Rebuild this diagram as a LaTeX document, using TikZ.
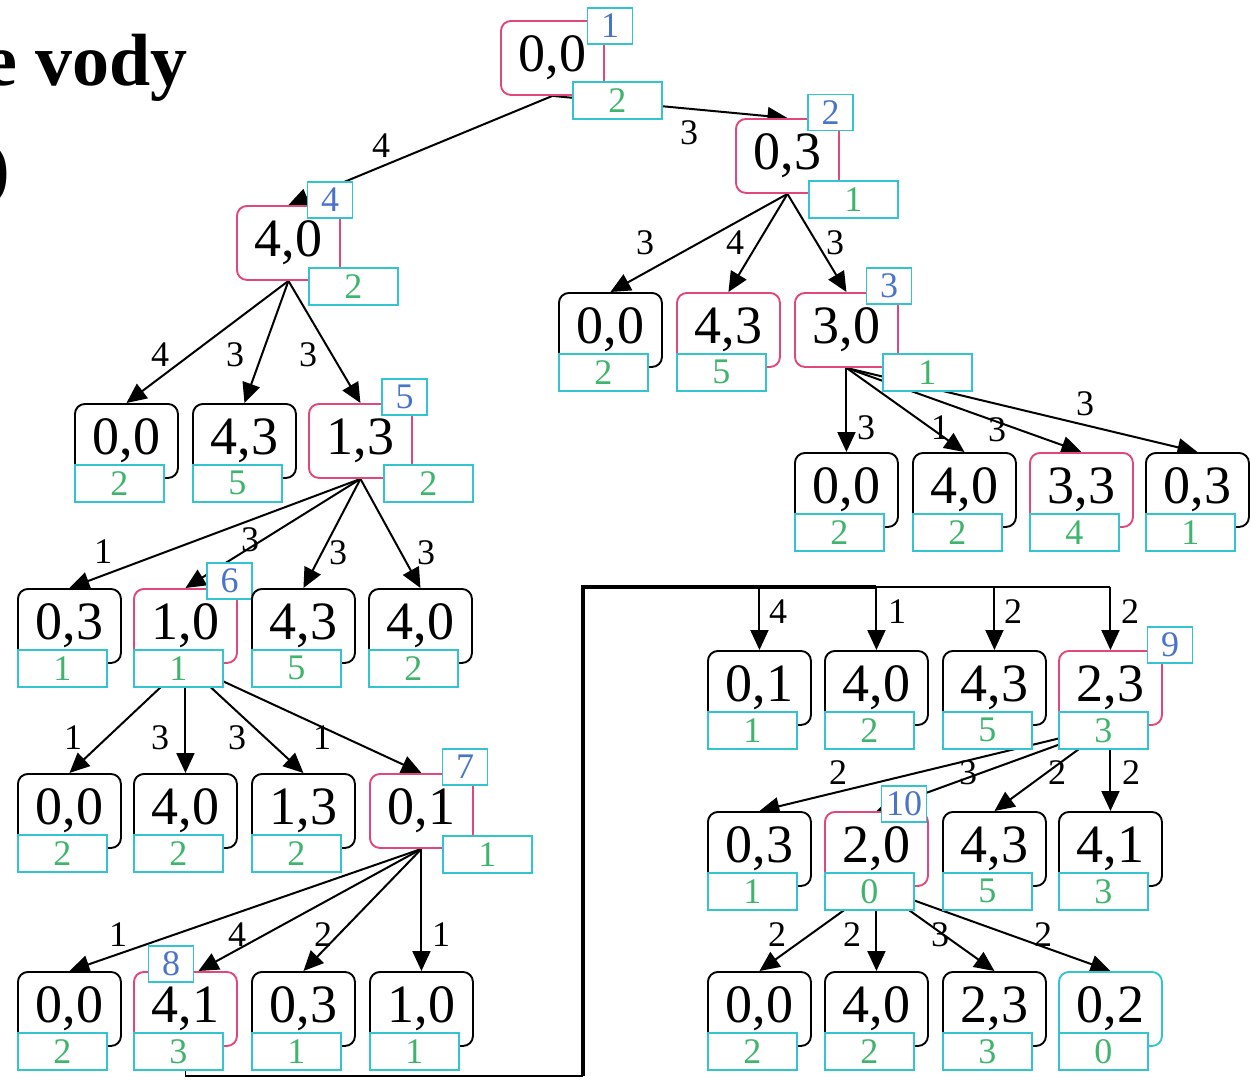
\documentclass[tikz,border=0pt]{standalone}
\usepackage{fontspec}
\setmainfont{Liberation Serif}
\usetikzlibrary{arrows.meta,calc,backgrounds}
\definecolor{pinkb}{HTML}{E2477C}
\definecolor{cyanb}{HTML}{33C4D2}
\definecolor{greent}{HTML}{3FB46C}
\definecolor{bluet}{HTML}{4A74C9}
\tikzset{
 mainbox/.style={draw, line width=1.9pt, rounded corners=10pt, fill=white, minimum width=103pt, minimum height=74pt, inner sep=0pt, anchor=north west, font=\fontsize{54}{54}\selectfont},
 costbox/.style={draw=cyanb, line width=1.7pt, fill=white, minimum width=89pt, minimum height=37pt, inner sep=0pt, anchor=north west, text=greent, font=\fontsize{36}{36}\selectfont},
 idbox/.style={draw=cyanb, line width=1.7pt, fill=white, minimum width=45pt, minimum height=36pt, inner sep=0pt, text=bluet, font=\fontsize{36}{36}\selectfont},
 edge/.style={line width=2pt, -{Triangle[length=20pt,width=18pt]}},
 trunk/.style={line width=2pt},
 lbl/.style={inner sep=0pt, font=\fontsize{36}{36}\selectfont},
 titlefont/.style={inner sep=0pt, anchor=base east, font=\bfseries\fontsize{74}{74}\selectfont},
}
\newcommand\stnode[6]{%
 \node[mainbox, draw=#6] (#1) at (#2,#3) {#4};
 \node[costbox] (#1c) at (#2,#3+61) {#5};}
\begin{document}
\begin{tikzpicture}[x=1pt,y=-1pt]
\useasboundingbox (0,0) rectangle (1250,1079);
\clip (0,0) rectangle (1250,1079);

% title fragments
\node[titlefont] (title) at (188,85) {e vody};
\node[titlefont] (paren) at (10,192) {)};

% root and right branch
\node[mainbox, draw=pinkb] (n1) at (500,20) {0,0};
\node[costbox] (n1c) at (572,81) {2};
\node[idbox] (n1i) at (610,26) {1};

\node[mainbox, draw=pinkb] (n2) at (735,118) {0,3};
\node[costbox] (n2c) at (808,180) {1};
\node[idbox] (n2i) at (830.5,112.5) {2};

\stnode{a1}{558}{292}{0,0}{2}{black}
\stnode{a2}{676}{292}{4,3}{5}{pinkb}
\node[mainbox, draw=pinkb] (n3) at (794,292) {3,0};
\node[costbox] (n3c) at (882,353) {1};
\node[idbox] (n3i) at (889,286) {3};

\stnode{b1}{794}{452}{0,0}{2}{black}
\stnode{b2}{912}{452}{4,0}{2}{black}
\stnode{b3}{1029}{452}{3,3}{4}{pinkb}
\stnode{b4}{1145}{452}{0,3}{1}{black}

% left branch
\node[mainbox, draw=pinkb] (n4) at (236,205) {4,0};
\node[costbox] (n4c) at (308,267) {2};
\node[idbox] (n4i) at (330,200) {4};

\stnode{c1}{74}{403}{0,0}{2}{black}
\stnode{c2}{192}{403}{4,3}{5}{black}
\node[mainbox, draw=pinkb] (n5) at (308,403) {1,3};
\node[costbox] (n5c) at (383,464) {2};
\node[idbox] (n5i) at (404.5,397) {5};

\stnode{d1}{17}{588}{0,3}{1}{black}
\stnode{n6}{133}{588}{1,0}{1}{pinkb}
\node[idbox] (n6i) at (229.5,581) {6};
\stnode{d3}{251}{588}{4,3}{5}{black}
\stnode{d4}{368}{588}{4,0}{2}{black}

\stnode{e1}{17}{773}{0,0}{2}{black}
\stnode{e2}{133}{773}{4,0}{2}{black}
\stnode{e3}{251}{773}{1,3}{2}{black}
\node[mainbox, draw=pinkb] (n7) at (369,773) {0,1};
\node[costbox] (n7c) at (442,835) {1};
\node[idbox] (n7i) at (465,767) {7};

\stnode{f1}{17}{971}{0,0}{2}{black}
\stnode{n8}{133}{971}{4,1}{3}{pinkb}
\node[idbox] (n8i) at (171,964) {8};
\stnode{f3}{251}{971}{0,3}{1}{black}
\stnode{f4}{369}{971}{1,0}{1}{black}

% lower right part
\stnode{g1}{707}{650}{0,1}{1}{black}
\stnode{g2}{824}{650}{4,0}{2}{black}
\stnode{g3}{942}{650}{4,3}{5}{black}
\stnode{n9}{1058}{650}{2,3}{3}{pinkb}
\node[idbox] (n9i) at (1170,645) {9};

\stnode{h1}{707}{811}{0,3}{1}{black}
\stnode{n10}{824}{811}{2,0}{0}{pinkb}
\node[idbox] (n10i) at (904,804) {10};
\stnode{h3}{942}{811}{4,3}{5}{black}
\stnode{h4}{1058}{811}{4,1}{3}{black}

\stnode{i1}{707}{971}{0,0}{2}{black}
\stnode{i2}{824}{971}{4,0}{2}{black}
\stnode{i3}{942}{971}{2,3}{3}{black}
\stnode{i4}{1058}{971}{0,2}{0}{cyanb}

\coordinate (t1) at (583,1076);
\coordinate (t2) at (583,587);

% connectors
\begin{scope}[on background layer]
\fill[white] (0,0) rectangle (1250,1079);
\draw[edge] (n1.south) -- (n2.north);
\draw[edge] (n1.south) -- (n4.north);
\draw[edge] (n2.south) -- (a1.north);
\draw[edge] (n2.south) -- (a2.north);
\draw[edge] (n2.south) -- (n3.north);
\draw[edge] (n3.south) -- (b1.north);
\draw[edge] (n3.south) -- (b2.north);
\draw[edge] (n3.south) -- (b3.north);
\draw[edge] (n3.south) -- (b4.north);
\draw[edge] (n4.south) -- (c1.north);
\draw[edge] (n4.south) -- (c2.north);
\draw[edge] (n4.south) -- (n5.north);
\draw[edge] (n5.south) -- (d1.north);
\draw[edge] (n5.south) -- (n6.north);
\draw[edge] (n5.south) -- (d3.north);
\draw[edge] (n5.south) -- (d4.north);
\draw[edge] (n6.south) -- (e1.north);
\draw[edge] (n6.south) -- (e2.north);
\draw[edge] (n6.south) -- (e3.north);
\draw[edge] (n6.south) -- (n7.north);
\draw[edge] (n7.south) -- (f1.north);
\draw[edge] (n7.south) -- ($(n8.north)+(13,0)$);
\draw[edge] (n7.south) -- (f3.north);
\draw[edge] (n7.south) -- (f4.north);
\draw[trunk, line width=1.4pt] (n8.south) |- (t1);
\draw[trunk, line width=3.2pt] (t1) -- (t2) -- (t2 -| g2.north);
\draw[trunk] (t2 -| g2.north) -- (t2 -| n9.north);
\draw[edge] (t2 -| g1.north) -- (g1.north);
\draw[edge] (t2 -| g2.north) -- (g2.north);
\draw[edge] (t2 -| g3.north) -- (g3.north);
\draw[edge] (t2 -| n9.north) -- (n9.north);
\draw[edge] (n9.south) -- (h1.north);
\draw[edge] (n9.south) -- (n10.north);
\draw[edge] (n9.south) -- (h3.north);
\draw[edge] (n9.south) -- (h4.north);
\draw[edge] (n10.south) -- (i1.north);
\draw[edge] (n10.south) -- (i2.north);
\draw[edge] (n10.south) -- (i3.north);
\draw[edge] (n10.south) -- (i4.north);
\end{scope}

% edge labels
\node[lbl] (l1) at (381,146) {4};
\node[lbl] (l2) at (689,133) {3};
\node[lbl] (l3) at (645,243) {3};
\node[lbl] (l4) at (735,243) {4};
\node[lbl] (l5) at (835,243) {3};
\node[lbl] (l6) at (866,428) {3};
\node[lbl] (l7) at (940,428) {1};
\node[lbl] (l8) at (997,430) {3};
\node[lbl] (l9) at (1085,404) {3};
\node[lbl] (l10) at (160,355) {4};
\node[lbl] (l11) at (235,355) {3};
\node[lbl] (l12) at (308,355) {3};
\node[lbl] (l13) at (103,552) {1};
\node[lbl] (l14) at (250,540) {3};
\node[lbl] (l15) at (338,553) {3};
\node[lbl] (l16) at (426,553) {3};
\node[lbl] (l17) at (73,738) {1};
\node[lbl] (l18) at (160,738) {3};
\node[lbl] (l19) at (237,738) {3};
\node[lbl] (l20) at (322,738) {1};
\node[lbl] (l21) at (118,935) {1};
\node[lbl] (l22) at (237,935) {4};
\node[lbl] (l23) at (323,935) {2};
\node[lbl] (l24) at (441,935) {1};
\node[lbl] (l25) at (778,612) {4};
\node[lbl] (l26) at (897,612) {1};
\node[lbl] (l27) at (1013,612) {2};
\node[lbl] (l28) at (1130,612) {2};
\node[lbl] (l29) at (838,773) {2};
\node[lbl] (l30) at (968,773) {3};
\node[lbl] (l31) at (1057,773) {2};
\node[lbl] (l32) at (1131,773) {2};
\node[lbl] (l33) at (777,935) {2};
\node[lbl] (l34) at (852,935) {2};
\node[lbl] (l35) at (940,935) {3};
\node[lbl] (l36) at (1043,935) {2};
\end{tikzpicture}
\end{document}
